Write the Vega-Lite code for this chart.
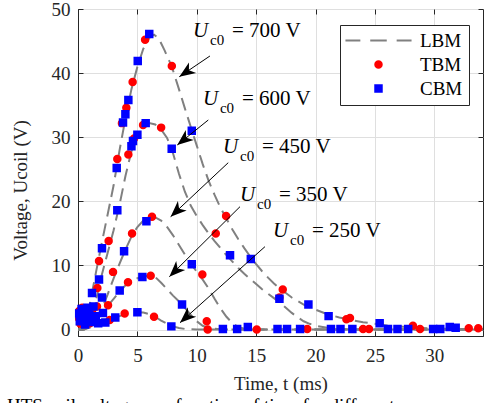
{
  "$schema": "https://vega.github.io/schema/vega-lite/v6.json",
  "width": 405,
  "height": 327,
  "autosize": {"type": "none"},
  "padding": {"left": 78, "top": 9, "right": 2, "bottom": 67},
  "background": "white",
  "title": {"text": "HTS coil voltage as a function of time for different", "orient": "bottom", "anchor": "start", "frame": "group", "offset": 4, "dx": -71, "font": "Liberation Serif", "fontSize": 19, "fontWeight": "normal", "color": "#000000"},
  "config": {
    "view": {"stroke": "#262626", "strokeWidth": 1},
    "axis": {"labelFont": "Liberation Serif", "labelFontSize": 19, "labelColor": "#262626", "titleFont": "Liberation Serif", "titleFontSize": 19, "titleFontWeight": "normal", "titleColor": "#262626", "domainColor": "#262626", "tickColor": "#262626", "tickSize": -5, "gridColor": "#dfdfdf", "grid": true, "labelOverlap": false, "labelFlush": false, "labelBound": false},
    "axisBottom": {"labelPadding": 15, "titleY": 53, "titleBaseline": "alphabetic"},
    "axisLeft": {"labelPadding": 13, "titleX": -48, "titleY": 181, "titleBaseline": "bottom"},
    "legend": {"padding": 6, "strokeColor": "#262626", "fillColor": "#ffffff", "labelFont": "Liberation Serif", "labelFontSize": 19, "labelColor": "#000000", "labelOffset": 32, "symbolOffset": 23, "rowPadding": 4, "symbolStrokeWidth": 2, "symbolSize": 42}
  },
  "datasets": {
    "lbm": [
      {"c":"700","t":0,"v":0},{"c":"700","t":0.3,"v":0},{"c":"700","t":0.6,"v":0.8},{"c":"700","t":1,"v":4},{"c":"700","t":1.5,"v":8.8},{"c":"700","t":2,"v":13.5},{"c":"700","t":2.5,"v":18},{"c":"700","t":3,"v":22.5},{"c":"700","t":3.5,"v":28},{"c":"700","t":4,"v":33},{"c":"700","t":4.5,"v":37.5},{"c":"700","t":5,"v":41},{"c":"700","t":5.5,"v":43.8},{"c":"700","t":6,"v":45.5},{"c":"700","t":6.4,"v":46},{"c":"700","t":6.8,"v":45.4},{"c":"700","t":7.3,"v":43.5},{"c":"700","t":7.9,"v":41},{"c":"700","t":8.5,"v":37.5},{"c":"700","t":9,"v":34.5},{"c":"700","t":9.6,"v":31},{"c":"700","t":10,"v":28.7},{"c":"700","t":10.5,"v":25.8},{"c":"700","t":11,"v":23.2},{"c":"700","t":11.5,"v":21},{"c":"700","t":12,"v":19},{"c":"700","t":12.5,"v":17.3},{"c":"700","t":13,"v":15.6},{"c":"700","t":13.5,"v":14.1},{"c":"700","t":14,"v":12.7},{"c":"700","t":14.5,"v":11.4},{"c":"700","t":15,"v":10.2},{"c":"700","t":15.5,"v":9.1},{"c":"700","t":16,"v":8.1},{"c":"700","t":16.5,"v":7.2},{"c":"700","t":17,"v":6.4},{"c":"700","t":17.5,"v":5.7},{"c":"700","t":18,"v":5},{"c":"700","t":19,"v":3.9},{"c":"700","t":20,"v":3.1},{"c":"700","t":21,"v":2.4},{"c":"700","t":22,"v":1.9},{"c":"700","t":23,"v":1.5},{"c":"700","t":24,"v":1.15},{"c":"700","t":25,"v":0.9},{"c":"700","t":26,"v":0.65},{"c":"700","t":27,"v":0.5},{"c":"700","t":28,"v":0.35},{"c":"700","t":29,"v":0.25},{"c":"700","t":30,"v":0.15},{"c":"700","t":32,"v":0.08},{"c":"700","t":34.1,"v":0.05},
      {"c":"600","t":0,"v":0},{"c":"600","t":0.5,"v":0},{"c":"600","t":1,"v":1.5},{"c":"600","t":1.5,"v":4.5},{"c":"600","t":2,"v":8.5},{"c":"600","t":2.5,"v":12},{"c":"600","t":3,"v":15.5},{"c":"600","t":3.5,"v":19.5},{"c":"600","t":4,"v":24},{"c":"600","t":4.5,"v":27.8},{"c":"600","t":5,"v":30.3},{"c":"600","t":5.5,"v":31.7},{"c":"600","t":6,"v":32.2},{"c":"600","t":6.5,"v":32},{"c":"600","t":7,"v":31.2},{"c":"600","t":7.5,"v":29.9},{"c":"600","t":8,"v":27.5},{"c":"600","t":8.5,"v":24.3},{"c":"600","t":9,"v":21.5},{"c":"600","t":9.5,"v":19.3},{"c":"600","t":10,"v":17.7},{"c":"600","t":10.5,"v":16.3},{"c":"600","t":11,"v":15},{"c":"600","t":11.5,"v":13.8},{"c":"600","t":12,"v":12.7},{"c":"600","t":12.5,"v":11.6},{"c":"600","t":13,"v":10.6},{"c":"600","t":13.5,"v":9.6},{"c":"600","t":14,"v":8.7},{"c":"600","t":14.5,"v":7.9},{"c":"600","t":15,"v":7.1},{"c":"600","t":15.5,"v":6.3},{"c":"600","t":16,"v":5.6},{"c":"600","t":16.5,"v":4.9},{"c":"600","t":17,"v":4.2},{"c":"600","t":17.5,"v":3.4},{"c":"600","t":18,"v":2.6},{"c":"600","t":18.5,"v":1.9},{"c":"600","t":19,"v":1.3},{"c":"600","t":19.5,"v":0.9},{"c":"600","t":20,"v":0.6},{"c":"600","t":21,"v":0.3},{"c":"600","t":22,"v":0.1},{"c":"600","t":23,"v":0},{"c":"600","t":34.1,"v":0},
      {"c":"450","t":0,"v":0},{"c":"450","t":0.5,"v":0},{"c":"450","t":1,"v":0.5},{"c":"450","t":1.5,"v":1.6},{"c":"450","t":2,"v":3.2},{"c":"450","t":2.5,"v":5.5},{"c":"450","t":3,"v":8},{"c":"450","t":3.5,"v":10.3},{"c":"450","t":4,"v":12.5},{"c":"450","t":4.5,"v":14.5},{"c":"450","t":5,"v":16},{"c":"450","t":5.5,"v":17},{"c":"450","t":6,"v":17.5},{"c":"450","t":6.4,"v":17.6},{"c":"450","t":7,"v":17},{"c":"450","t":7.5,"v":16},{"c":"450","t":8,"v":14.7},{"c":"450","t":8.5,"v":13.2},{"c":"450","t":9,"v":11.7},{"c":"450","t":9.5,"v":10.3},{"c":"450","t":10,"v":9},{"c":"450","t":10.5,"v":7.8},{"c":"450","t":11,"v":6.4},{"c":"450","t":11.5,"v":4.8},{"c":"450","t":12,"v":3.3},{"c":"450","t":12.5,"v":2},{"c":"450","t":13,"v":1},{"c":"450","t":13.5,"v":0.4},{"c":"450","t":14,"v":0.15},{"c":"450","t":15,"v":0},{"c":"450","t":34.1,"v":0},
      {"c":"350","t":0,"v":0},{"c":"350","t":0.5,"v":0},{"c":"350","t":1,"v":0.6},{"c":"350","t":1.5,"v":1.5},{"c":"350","t":2,"v":2.6},{"c":"350","t":2.5,"v":3.7},{"c":"350","t":3,"v":4.8},{"c":"350","t":3.5,"v":5.9},{"c":"350","t":4,"v":6.9},{"c":"350","t":4.5,"v":7.6},{"c":"350","t":5,"v":8},{"c":"350","t":5.5,"v":8.3},{"c":"350","t":6,"v":8.4},{"c":"350","t":6.5,"v":8.2},{"c":"350","t":7,"v":7.3},{"c":"350","t":7.5,"v":6.3},{"c":"350","t":8,"v":5.3},{"c":"350","t":8.5,"v":4.4},{"c":"350","t":9,"v":3.4},{"c":"350","t":9.5,"v":2.3},{"c":"350","t":10,"v":1.3},{"c":"350","t":10.5,"v":0.6},{"c":"350","t":11,"v":0.25},{"c":"350","t":12,"v":0.05},{"c":"350","t":13,"v":0},{"c":"350","t":34.1,"v":0},
      {"c":"250","t":0,"v":0},{"c":"250","t":0.5,"v":0},{"c":"250","t":1,"v":0.3},{"c":"250","t":1.5,"v":0.6},{"c":"250","t":2,"v":1},{"c":"250","t":2.5,"v":1.4},{"c":"250","t":3,"v":1.8},{"c":"250","t":3.5,"v":2.1},{"c":"250","t":4,"v":2.4},{"c":"250","t":4.5,"v":2.6},{"c":"250","t":5,"v":2.7},{"c":"250","t":5.5,"v":2.65},{"c":"250","t":6,"v":2.4},{"c":"250","t":6.5,"v":2},{"c":"250","t":7,"v":1.4},{"c":"250","t":7.5,"v":0.9},{"c":"250","t":8,"v":0.5},{"c":"250","t":8.5,"v":0.25},{"c":"250","t":9,"v":0.1},{"c":"250","t":10,"v":0},{"c":"250","t":34.1,"v":0}
    ],
    "pts": [
      {"m":"TBM","t":0.1,"v":2.9},{"m":"TBM","t":0.1,"v":1.7},{"m":"TBM","t":0.2,"v":0.9},{"m":"TBM","t":0.35,"v":3.4},{"m":"TBM","t":0.4,"v":2.3},{"m":"TBM","t":0.55,"v":1.3},{"m":"TBM","t":0.75,"v":2.8},{"m":"TBM","t":0.85,"v":1.8},{"m":"TBM","t":1.0,"v":1.0},{"m":"TBM","t":1.2,"v":3.1},{"m":"TBM","t":1.3,"v":1.6},{"m":"TBM","t":1.6,"v":3.6},{"m":"TBM","t":1.63,"v":6.5},{"m":"TBM","t":1.77,"v":10.7},{"m":"TBM","t":2.53,"v":3.8},{"m":"TBM","t":2.58,"v":13.8},{"m":"TBM","t":2.67,"v":1.5},{"m":"TBM","t":2.95,"v":9.0},{"m":"TBM","t":3.31,"v":26.6},{"m":"TBM","t":3.7,"v":32.2},{"m":"TBM","t":3.93,"v":2.5},{"m":"TBM","t":4.07,"v":34.6},{"m":"TBM","t":4.21,"v":7.4},{"m":"TBM","t":4.24,"v":27.3},{"m":"TBM","t":4.55,"v":15.0},{"m":"TBM","t":4.6,"v":38.6},{"m":"TBM","t":4.72,"v":29.8},{"m":"TBM","t":5.48,"v":31.9},{"m":"TBM","t":5.65,"v":45.2},{"m":"TBM","t":6.12,"v":8.4},{"m":"TBM","t":6.23,"v":17.6},{"m":"TBM","t":6.4,"v":2.0},{"m":"TBM","t":7.0,"v":31.5},{"m":"TBM","t":7.9,"v":41.1},{"m":"TBM","t":10.47,"v":8.6},{"m":"TBM","t":10.84,"v":1.3},{"m":"TBM","t":10.92,"v":0.0},{"m":"TBM","t":11.6,"v":15.0},{"m":"TBM","t":12.47,"v":17.7},{"m":"TBM","t":15.05,"v":0.0},{"m":"TBM","t":16.96,"v":5.0},{"m":"TBM","t":17.24,"v":6.25},{"m":"TBM","t":19.3,"v":0.1},{"m":"TBM","t":22.6,"v":1.6},{"m":"TBM","t":22.9,"v":1.8},{"m":"TBM","t":24.0,"v":0.1},{"m":"TBM","t":24.5,"v":0.1},{"m":"TBM","t":28.2,"v":0.6},{"m":"TBM","t":28.8,"v":0.1},{"m":"TBM","t":32.9,"v":0.2},{"m":"TBM","t":33.7,"v":0.2},
      {"m":"CBM","t":0.1,"v":2.5},{"m":"CBM","t":0.15,"v":1.3},{"m":"CBM","t":0.3,"v":3.2},{"m":"CBM","t":0.45,"v":2.0},{"m":"CBM","t":0.6,"v":0.8},{"m":"CBM","t":0.8,"v":3.4},{"m":"CBM","t":0.95,"v":2.3},{"m":"CBM","t":1.1,"v":1.2},{"m":"CBM","t":1.18,"v":5.7},{"m":"CBM","t":1.3,"v":3.6},{"m":"CBM","t":1.5,"v":2.1},{"m":"CBM","t":1.7,"v":1.0},{"m":"CBM","t":1.77,"v":7.8},{"m":"CBM","t":2.02,"v":5.0},{"m":"CBM","t":2.02,"v":12.7},{"m":"CBM","t":2.1,"v":2.6},{"m":"CBM","t":2.3,"v":1.1},{"m":"CBM","t":3.14,"v":1.9},{"m":"CBM","t":3.26,"v":25.2},{"m":"CBM","t":3.31,"v":18.6},{"m":"CBM","t":3.51,"v":6.1},{"m":"CBM","t":3.79,"v":32.3},{"m":"CBM","t":3.88,"v":12.2},{"m":"CBM","t":3.99,"v":33.6},{"m":"CBM","t":4.24,"v":35.8},{"m":"CBM","t":4.5,"v":28.6},{"m":"CBM","t":4.63,"v":29.4},{"m":"CBM","t":5.0,"v":30.4},{"m":"CBM","t":5.0,"v":2.7},{"m":"CBM","t":5.03,"v":41.9},{"m":"CBM","t":5.42,"v":8.2},{"m":"CBM","t":5.7,"v":32.2},{"m":"CBM","t":5.76,"v":16.9},{"m":"CBM","t":6.0,"v":46.1},{"m":"CBM","t":7.86,"v":0.5},{"m":"CBM","t":7.89,"v":28.2},{"m":"CBM","t":8.76,"v":3.9},{"m":"CBM","t":9.58,"v":31.0},{"m":"CBM","t":9.58,"v":10.2},{"m":"CBM","t":12.2,"v":0.1},{"m":"CBM","t":12.8,"v":11.6},{"m":"CBM","t":13.4,"v":0.1},{"m":"CBM","t":14.3,"v":0.4},{"m":"CBM","t":14.55,"v":11.0},{"m":"CBM","t":16.8,"v":0.1},{"m":"CBM","t":16.96,"v":4.8},{"m":"CBM","t":17.6,"v":0.1},{"m":"CBM","t":18.7,"v":0.1},{"m":"CBM","t":19.4,"v":3.9},{"m":"CBM","t":21.1,"v":2.1},{"m":"CBM","t":21.3,"v":0.1},{"m":"CBM","t":22.1,"v":0.1},{"m":"CBM","t":23.1,"v":0.1},{"m":"CBM","t":25.4,"v":1.0},{"m":"CBM","t":26.1,"v":0.1},{"m":"CBM","t":26.9,"v":0.1},{"m":"CBM","t":27.8,"v":0.1},{"m":"CBM","t":29.9,"v":0.1},{"m":"CBM","t":30.5,"v":0.1},{"m":"CBM","t":31.3,"v":0.4},{"m":"CBM","t":31.8,"v":0.3}
    ],
    "ann": [
      {"c":"700","t0":11.11,"v0":42.67,"t1":8.53,"v1":39.44,"ang":236.0,"tl":9.68,"vl":45.63,"lab":"= 700 V"},
      {"c":"600","t0":10.97,"v0":32.69,"t1":8.36,"v1":28.79,"ang":231.1,"tl":10.52,"vl":35.03,"lab":"= 600 V"},
      {"c":"450","t0":12.65,"v0":26.03,"t1":7.8,"v1":17.61,"ang":226.8,"tl":12.21,"vl":27.54,"lab":"= 450 V"},
      {"c":"350","t0":13.64,"v0":19.17,"t1":7.69,"v1":8.25,"ang":225.3,"tl":13.64,"vl":20.06,"lab":"= 350 V"},
      {"c":"250","t0":15.74,"v0":12.93,"t1":8.59,"v1":1.08,"ang":228.2,"tl":16.42,"vl":14.44,"lab":"= 250 V"}
    ]
  },
  "resolve": {"axis": {"x": "independent", "y": "independent"}},
  "layer": [
    {
      "layer": [
        {
          "data": {"name": "lbm"},
          "mark": {"type": "line", "color": "#808080", "strokeWidth": 2, "strokeDash": [13, 7]},
          "encoding": {
            "x": {"field": "t", "type": "quantitative", "scale": {"domain": [0, 34.1], "nice": false, "zero": false}, "axis": {"title": "Time, t (ms)", "orient": "bottom", "values": [0, 5, 10, 15, 20, 25, 30]}},
            "y": {"field": "v", "type": "quantitative", "scale": {"domain": [-1, 50], "nice": false, "zero": false}, "axis": {"title": "Voltage, Ucoil (V)", "orient": "left", "values": [0, 10, 20, 30, 40, 50]}},
            "detail": {"field": "c", "type": "nominal"}
          }
        },
        {
          "data": {"name": "pts"},
          "mark": {"type": "point", "filled": true, "opacity": 1, "size": 42},
          "encoding": {
            "x": {"field": "t", "type": "quantitative"},
            "y": {"field": "v", "type": "quantitative"},
            "color": {"field": "m", "type": "nominal", "scale": {"domain": ["LBM", "TBM", "CBM"], "range": ["#808080", "#ff0000", "#0000ff"]}, "legend": {"title": null, "orient": "none", "legendX": 262, "legendY": 16}},
            "stroke": {"field": "m", "type": "nominal", "scale": {"domain": ["LBM", "TBM", "CBM"], "range": ["#808080", "#ff0000", "#0000ff"]}, "legend": {"title": null, "orient": "none", "legendX": 262, "legendY": 16}},
            "shape": {"field": "m", "type": "nominal", "scale": {"domain": ["LBM", "TBM", "CBM"], "range": ["M-10.2,0H-5.6M-2.55,0H2.55M5.6,0H10.2", "circle", "square"]}, "legend": {"title": null, "orient": "none", "legendX": 262, "legendY": 16}}
          }
        },
        {
          "data": {"name": "ann"},
          "mark": {"type": "rule", "color": "#000000", "strokeWidth": 1},
          "encoding": {
            "x": {"field": "t0", "type": "quantitative"},
            "y": {"field": "v0", "type": "quantitative"},
            "x2": {"field": "t1"},
            "y2": {"field": "v1"}
          }
        },
        {
          "data": {"name": "ann"},
          "mark": {"type": "point", "shape": "M0,0L0.8,2L0,1.45L-0.8,2Z", "filled": true, "color": "#000000", "size": 256, "opacity": 1},
          "encoding": {
            "x": {"field": "t1", "type": "quantitative"},
            "y": {"field": "v1", "type": "quantitative"},
            "angle": {"field": "ang", "type": "quantitative", "scale": null}
          }
        },
        {
          "data": {"name": "ann"},
          "mark": {"type": "text", "text": "U", "align": "left", "baseline": "alphabetic", "font": "Liberation Serif", "fontStyle": "italic", "fontSize": 21, "color": "#000000"},
          "encoding": {"x": {"field": "tl", "type": "quantitative"}, "y": {"field": "vl", "type": "quantitative"}}
        },
        {
          "data": {"name": "ann"},
          "mark": {"type": "text", "text": "c0", "align": "left", "baseline": "alphabetic", "font": "Liberation Serif", "fontSize": 15, "dx": 17, "dy": 8, "color": "#000000"},
          "encoding": {"x": {"field": "tl", "type": "quantitative"}, "y": {"field": "vl", "type": "quantitative"}}
        },
        {
          "data": {"name": "ann"},
          "mark": {"type": "text", "align": "left", "baseline": "alphabetic", "font": "Liberation Serif", "fontSize": 21, "dx": 39, "color": "#000000"},
          "encoding": {"x": {"field": "tl", "type": "quantitative"}, "y": {"field": "vl", "type": "quantitative"}, "text": {"field": "lab"}}
        }
      ]
    },
    {
      "data": {"name": "ann"},
      "mark": {"type": "point", "opacity": 0},
      "encoding": {
        "x": {"field": "t1", "type": "quantitative", "axis": {"orient": "top", "title": null, "labels": false, "grid": false, "domain": false, "values": [0, 5, 10, 15, 20, 25, 30]}},
        "y": {"field": "v1", "type": "quantitative", "axis": {"orient": "right", "title": null, "labels": false, "grid": false, "domain": false, "values": [0, 10, 20, 30, 40, 50]}}
      }
    }
  ]
}
